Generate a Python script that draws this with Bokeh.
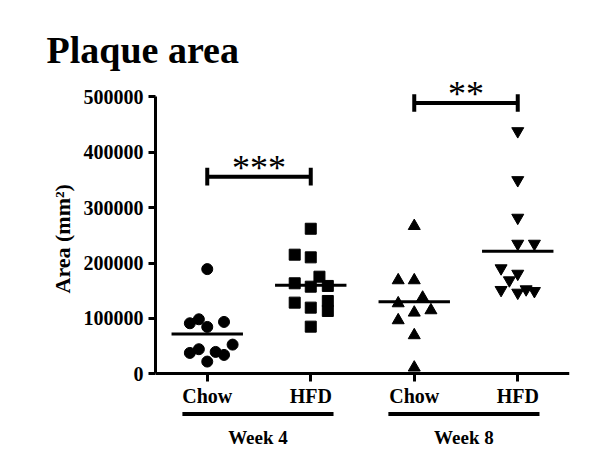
from bokeh.plotting import figure
from bokeh.models import FixedTicker, Range1d, Title
from bokeh.core.properties import value
from bokeh.embed import file_html
from bokeh.resources import INLINE

# ---------------- data ----------------
categories = ["Chow", "HFD", "Chow", "HFD"]
cat_pos = [1, 2, 3, 4]
groups = ["Week 4", "Week 8"]

chow_w4 = [189000, 91300, 98500, 84700, 93700, 52800, 37800, 44500, 39600, 34200, 22200]
chow_w4_dx = [0, -0.168, -0.081, 0, 0.162, 0.245, -0.168, -0.081, 0.081, 0.162, 0]

hfd_w4 = [261800, 215000, 210200, 175300, 163400, 157300, 158600, 128500, 131500, 113500, 119500, 85200]
hfd_w4_dx = [0, -0.155, 0, 0.084, -0.155, 0, 0.165, -0.155, 0.165, 0.165, 0, 0]

chow_w8 = [266700, 168800, 168800, 137500, 127300, 110500, 114700, 96700, 69700, 11400]
chow_w8_dx = [0, -0.155, 0, 0.081, -0.155, 0, 0.161, -0.155, 0, 0]

hfd_w8 = [437800, 349500, 281700, 234800, 234800, 190500, 180700, 168800, 151400, 146500, 152600, 149500]
hfd_w8_dx = [0, 0, 0, 0, 0.161, -0.161, 0, -0.081, -0.161, 0, 0.081, 0.161]

center_lines = [72000, 160000, 130000, 221000]

sig_pairs = [(1, 2), (3, 4)]
sig_levels = [355600, 488600]
sig_text = ["***", "**"]

y_ticks = [0, 100000, 200000, 300000, 400000, 500000]

SERIF = "Liberation Serif"

p = figure(width=600, height=463, output_backend="svg", toolbar_location=None,
           x_range=Range1d(0.5, 4.5), y_range=Range1d(-140000, 540000),
           min_border_left=155, min_border_right=31, min_border_top=74, min_border_bottom=12)
p.outline_line_color = None
p.grid.visible = False
p.background_fill_color = "white"
p.border_fill_color = "white"

# axes
xa = p.xaxis[0]
xa.fixed_location = 0
xa.ticker = FixedTicker(ticks=cat_pos)
xa.major_label_overrides = {pos: lab for pos, lab in zip(cat_pos, categories)}
xa.axis_line_width = 3
xa.major_tick_line_width = 3
xa.major_tick_out = 8
xa.major_tick_in = 0
xa.minor_tick_line_color = None
xa.major_label_text_font = SERIF
xa.major_label_text_font_style = "bold"
xa.major_label_text_font_size = "20px"
xa.major_label_text_color = "black"
xa.major_label_standoff = 3
xa.bounds = (0.5, 4.5)

ya = p.yaxis[0]
ya.bounds = (0, 500000)
ya.ticker = FixedTicker(ticks=y_ticks)
ya.major_label_overrides = {t: str(t) for t in y_ticks}
ya.axis_line_width = 3
ya.major_tick_line_width = 3
ya.major_tick_out = 7
ya.major_tick_in = 0
ya.minor_tick_line_color = None
ya.major_label_text_font = SERIF
ya.major_label_text_font_style = "bold"
ya.major_label_text_font_size = "20px"
ya.major_label_text_color = "black"
ya.major_label_standoff = 5

# y-axis title (side title, placed along the 0..500000 span)
ytitle = Title(text="Area (mm²)", text_font=SERIF, text_font_style="bold",
               text_font_size="22px", text_color="black", align="left",
               offset=158, standoff=11)
p.add_layout(ytitle, "left")

# points
p.scatter([cat_pos[0] + d for d in chow_w4_dx], chow_w4, marker="circle", size=11, color="black")
p.scatter([cat_pos[1] + d for d in hfd_w4_dx], hfd_w4, marker="square", size=11, color="black")
p.scatter([cat_pos[2] + d for d in chow_w8_dx], chow_w8, marker="triangle", size=12, color="black")
p.scatter([cat_pos[3] + d for d in hfd_w8_dx], hfd_w8, marker="inverted_triangle", size=12, color="black")

# centre lines
hw = 0.345
p.segment(x0=[c - hw for c in cat_pos], x1=[c + hw for c in cat_pos],
          y0=center_lines, y1=center_lines, line_color="black", line_width=3)

# significance brackets
tick_h = 16000
for (a, b), lvl, txt in zip(sig_pairs, sig_levels, sig_text):
    p.segment(x0=[a, a, b], x1=[b, a, b], y0=[lvl, lvl - tick_h, lvl - tick_h],
              y1=[lvl, lvl + tick_h, lvl + tick_h], line_color="black", line_width=4)
    p.text(x=[(a + b) / 2], y=[lvl], text=[txt], text_font=value(SERIF),
           text_font_size="36px", text_align="center", text_baseline="alphabetic",
           text_color="black", y_offset=-9)

# group underlines and labels
under_y = -72200
group_label_y = -115500
group_spans = [(0.76, 2.22), (2.75, 4.21)]
for (a, b), g in zip(group_spans, groups):
    p.segment(x0=[a], x1=[b], y0=[under_y], y1=[under_y], line_color="black", line_width=4)
    p.text(x=[(a + b) / 2], y=[group_label_y], text=[g], text_font=value(SERIF),
           text_font_style="bold", text_font_size="19px", text_align="center",
           text_baseline="middle", text_color="black")

# title
title = Title(text="Plaque area", text_font=SERIF, text_font_style="bold",
              text_font_size="38px", text_color="black", align="left", offset=-109,
              standoff=7)
p.add_layout(title, "above")

open("out.html", "w").write(file_html(p, INLINE))
